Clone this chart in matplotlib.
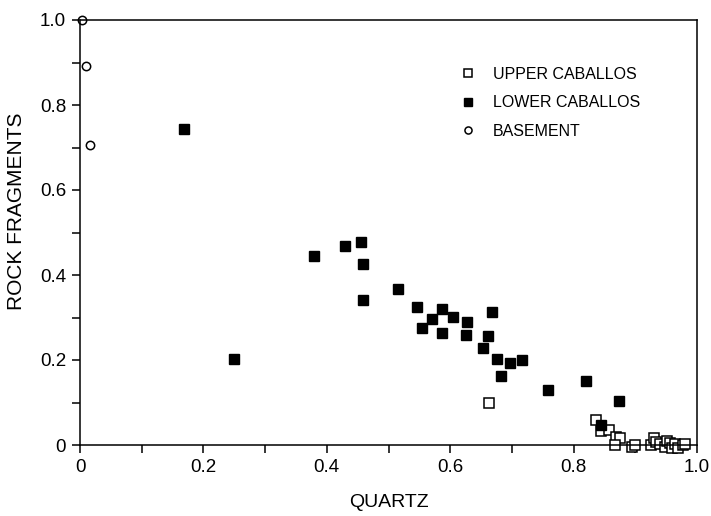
import numpy as np
import matplotlib
matplotlib.use('Agg')
from matplotlib import pyplot as plt

#quartz vs rock fragment fractions
upper_q = [0.663, 0.837, 0.845, 0.858, 0.869, 0.876, 0.867, 0.894, 0.900, 0.926,
           0.930, 0.934, 0.940, 0.948, 0.951, 0.956, 0.960, 0.964, 0.969, 0.977, 0.981]
upper_rf = [0.099, 0.058, 0.032, 0.035, 0.018, 0.016, 0.001, -0.004, 0.000, 0.000,
            0.016, 0.008, 0.003, -0.004, 0.010, 0.005, -0.006, 0.002, -0.006, 0.001, 0.002]

lower_q = [0.169, 0.250, 0.379, 0.430, 0.456, 0.459, 0.459, 0.516, 0.546, 0.586,
           0.570, 0.605, 0.555, 0.586, 0.627, 0.668, 0.626, 0.661, 0.653, 0.676,
           0.697, 0.716, 0.683, 0.759, 0.820, 0.874, 0.845]
lower_rf = [0.744, 0.203, 0.444, 0.469, 0.477, 0.425, 0.342, 0.367, 0.324, 0.319,
            0.297, 0.301, 0.276, 0.263, 0.289, 0.312, 0.258, 0.256, 0.228, 0.203,
            0.193, 0.199, 0.162, 0.130, 0.151, 0.104, 0.046]

base_q = [0.003, 0.010, 0.016]
base_rf = [1.000, 0.891, 0.705]

xticks = np.arange(0, 1.01, 0.1)
yticks = np.arange(0, 1.01, 0.1)
tick_labels = ['0', '', '0.2', '', '0.4', '', '0.6', '', '0.8', '', '1.0']

plt.rcParams['font.family'] = ['Liberation Sans', 'DejaVu Sans']

fig = plt.figure(figsize=(7.11, 5.16), dpi=100)
ax = fig.add_axes([80/711, 1-445/516, 617/711, 425/516])

ax.plot(upper_q, upper_rf, 's', ms=7, mfc='white', mec='black', mew=1.1,
        ls='none', clip_on=False, label='UPPER CABALLOS')
ax.plot(lower_q, lower_rf, 's', ms=6.5, mfc='black', mec='black',
        ls='none', clip_on=False, label='LOWER CABALLOS')
ax.plot(base_q, base_rf, 'o', ms=6, mfc='white', mec='black', mew=1.1,
        ls='none', clip_on=False, label='BASEMENT')

ax.set_xlim(0, 1.0)
ax.set_ylim(0, 1.0)
ax.set_xticks(xticks)
ax.set_yticks(yticks)
ax.set_xticklabels(tick_labels)
ax.set_yticklabels(tick_labels)
ax.tick_params(direction='out', length=6, width=1.1, labelsize=13.5, pad=4)
for s in ax.spines.values():
    s.set_linewidth(1.1)

ax.set_xlabel('QUARTZ', fontsize=14, labelpad=13)
ax.set_ylabel('ROCK FRAGMENTS', fontsize=15, labelpad=10)
ax.yaxis.set_label_coords(-0.087, 0.55)

ax.legend(loc='upper left', bbox_to_anchor=(0.593, 0.905), frameon=False,
          fontsize=11.5, handletextpad=0.55, labelspacing=0.85,
          markerscale=0.85, borderaxespad=0)

fig.savefig('out.png', dpi=100)
